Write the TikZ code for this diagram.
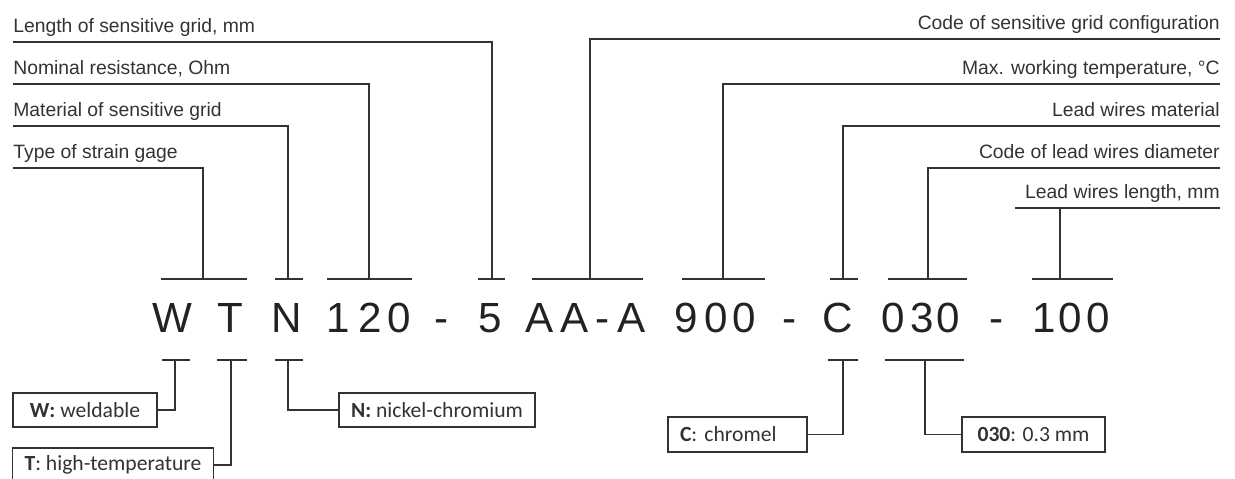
\documentclass[tikz,border=0pt]{standalone}
\usepackage{fontspec}
\usepackage{tikz}
\newfontfamily\lblfont{Liberation Sans}
\newfontfamily\codefont{Liberation Sans}
\newfontfamily\boxfont{Carlito}
\definecolor{InkGray}{HTML}{333333}
\definecolor{CodeBlack}{HTML}{222222}
\tikzset{
  % Line styles
  wire/.style={line width=0.9pt, InkGray},
  % Label styles
  leftlabel/.style={anchor=south west, inner xsep=0pt, inner ysep=2.5pt, text height=8pt, text depth=2.5pt, font=\lblfont\fontsize{11}{13}\selectfont, text=InkGray},
  rightlabel/.style={leftlabel, anchor=south east},
  codechar/.style={anchor=base, inner sep=0pt, font=\codefont\fontsize{24}{28}\selectfont, text=CodeBlack},
  % Box styles
  keybox/.style={rectangle, draw=InkGray, line width=0.9pt, fill=white, minimum height=0.68cm, inner xsep=0.24cm, font=\boxfont\fontsize{12.3}{14}\selectfont, text=InkGray}
}

\begin{document}
\begin{tikzpicture}[x=0.02cm, y=-0.02cm]
  \useasboundingbox (0,0) rectangle (1235,478);

  % Code of the gage
  \foreach \x/\c [count=\k] in {172/W, 230/T, 287/N, 338/1, 370/2, 399/0, 442/-, 490/5, 540/A, 575/A, 603/-, 632/A, 686/9, 716/0, 744/0, 790/-, 838/C, 893/0, 922/3, 948/0, 997/-, 1044/1, 1070/0, 1098/0} {
    \node[codechar] (c\k) at (\x,332) {\c};
  }

  % Brackets above the code
  \foreach \n/\xa/\xb/\xs in {Type/161/247/203, Mat/275/303/288, Res/327/412/369, Len/478/505/492, Cfg/532/643/590, Temp/682/765/723, Lead/830/858/843, Dia/888/967/928, Wire/1032/1113/1060} {
    \draw[wire] (\xa,279) -- (\xb,279);
    \coordinate (u\n) at (\xs,279);
  }

  % Brackets below the code
  \foreach \n/\xa/\xb/\xs in {Wel/162/190/175, Hi/217/247/231, Ni/275/303/288, Ch/828/858/843, Dm/885/964/925} {
    \draw[wire] (\xa,360) -- (\xb,360);
    \coordinate (d\n) at (\xs,360);
  }

  % Left labels
  \foreach \n/\y/\txt in {Len/42/{Length of sensitive grid, mm}, Res/84/{Nominal resistance, Ohm}, Mat/126/{Material of sensitive grid}, Type/168/{Type of strain gage}} {
    \node[leftlabel] (l\n) at (13,\y) {\txt};
    \draw[wire] (l\n.south west) -| (u\n);
  }

  % Right labels
  \foreach \n/\y/\txt in {Cfg/39/{Code of sensitive grid configuration}, Temp/84/{Max. working temperature, °C}, Lead/126/{Lead wires material}, Dia/168/{Code of lead wires diameter}} {
    \node[rightlabel] (r\n) at (1220,\y) {\txt};
    \draw[wire] (r\n.south east) -| (u\n);
  }
  \node[rightlabel] (rWire) at (1220,208) {Lead wires length, mm};
  \draw[wire] ([xshift=-0.2cm]rWire.south west) -- (rWire.south east);
  \draw[wire] (rWire.south west -| uWire) -- (uWire);

  % Key boxes
  \node[keybox, minimum width=2.88cm] (kW) at (85,410) {\textbf{W:} weldable};
  \node[keybox, minimum width=4cm] (kT) at (113,465) {\textbf{T}: high-temperature};
  \node[keybox, minimum width=3.92cm] (kN) at (437,410) {\textbf{N:} nickel-chromium};
  \node[keybox, minimum height=0.7cm, text width=2.3cm, align=left] (kC) at (737.5,434.5) {\textbf{C}: chromel};
  \node[keybox, minimum height=0.7cm, minimum width=2.86cm] (kD) at (1033.5,434.5) {\textbf{030}: 0.3 mm};

  % Connectors to the boxes
  \draw[wire] (dWel) |- (kW.east);
  \draw[wire] (dHi) |- (kT.east);
  \draw[wire] (dNi) |- (kN.west);
  \draw[wire] (dCh) |- (kC.east);
  \draw[wire] (dDm) |- (kD.west);
\end{tikzpicture}
\end{document}
